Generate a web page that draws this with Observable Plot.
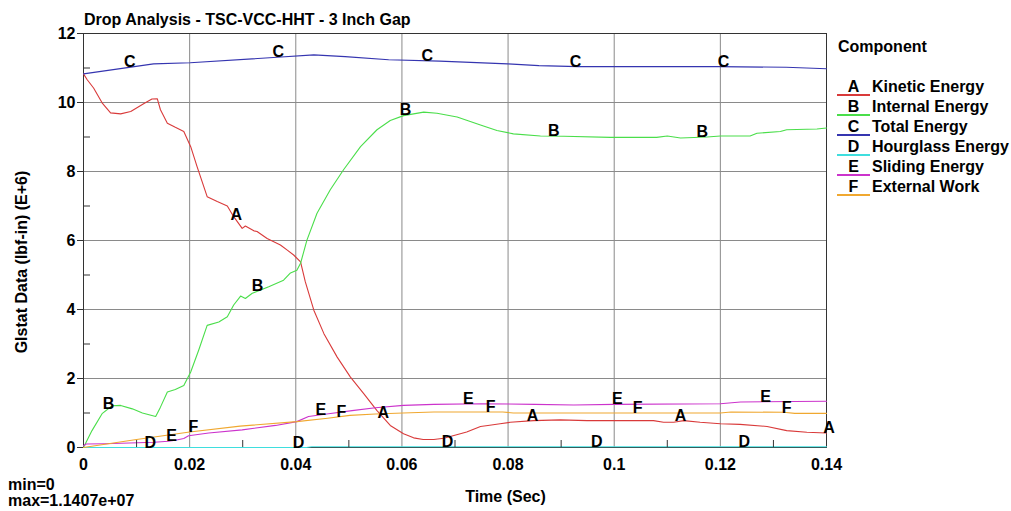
<!DOCTYPE html>
<html><head><meta charset="utf-8">
<script src="https://cdn.jsdelivr.net/npm/d3@7"></script>
<script src="https://cdn.jsdelivr.net/npm/@observablehq/plot@0.6"></script>
<style>
body{margin:0;background:#fff;}
#wrap{position:relative;width:1011px;height:511px;overflow:hidden;font-family:"Liberation Sans",Arial,sans-serif;font-weight:bold;font-size:16px;color:#000;background:#fff;}
#wrap svg{position:absolute;left:0;top:0;}
.abs{position:absolute;white-space:nowrap;line-height:18px;}
</style></head><body><div id="wrap"></div>
<script>
const titleText = "Drop Analysis - TSC-VCC-HHT - 3 Inch Gap";
const legendTitle = "Component";
const xLabel = "Time (Sec)";
const yLabel = "Glstat Data (lbf-in) (E+6)";
const minText = "min=0";
const maxText = "max=1.1407e+07";

const letters = ["A", "B", "C", "D", "E", "F"];
const names = ["Kinetic Energy", "Internal Energy", "Total Energy", "Hourglass Energy", "Sliding Energy", "External Work"];
const colors = ["#d93a3a", "#4ade4a", "#3535b0", "#3fdede", "#cc33cc", "#f0a830"];

const xMajor = [0, 0.02, 0.04, 0.06, 0.08, 0.1, 0.12, 0.14];
const xMinor = [0.01, 0.03, 0.05, 0.07, 0.09, 0.11, 0.13];
const yMajor = [0, 2, 4, 6, 8, 10, 12];
const yMinor = [1, 3, 5, 7, 9, 11];

// [time (s), value (E+6 lbf-in)]
const kinetic = [[0,10.83],[0.0007,10.66],[0.0019,10.42],[0.0035,9.99],[0.0051,9.70],[0.0070,9.67],[0.0089,9.74],[0.0114,9.97],[0.0129,10.10],[0.0139,10.11],[0.0145,9.79],[0.0158,9.40],[0.0173,9.28],[0.0189,9.16],[0.0202,8.72],[0.0214,8.14],[0.0233,7.27],[0.0252,7.13],[0.0271,7.00],[0.0283,6.69],[0.0299,6.35],[0.0305,6.42],[0.0321,6.28],[0.0327,6.26],[0.0346,6.06],[0.0371,5.87],[0.0384,5.72],[0.0396,5.58],[0.0409,5.38],[0.0418,4.80],[0.0434,3.98],[0.0453,3.30],[0.0478,2.62],[0.0503,2.04],[0.0528,1.56],[0.0553,1.07],[0.0578,0.64],[0.0603,0.40],[0.0622,0.28],[0.0640,0.23],[0.0660,0.23],[0.0679,0.27],[0.0710,0.40],[0.0722,0.45],[0.0748,0.61],[0.0762,0.64],[0.0785,0.69],[0.0804,0.73],[0.0848,0.78],[0.0898,0.80],[0.0949,0.78],[0.1074,0.78],[0.1093,0.73],[0.1112,0.73],[0.1131,0.78],[0.1162,0.73],[0.1200,0.69],[0.1237,0.67],[0.1288,0.61],[0.1325,0.49],[0.1363,0.44],[0.1400,0.42]];
const internal = [[0,0],[0.0016,0.49],[0.0035,0.98],[0.0054,1.21],[0.0070,1.22],[0.0092,1.12],[0.0111,1.00],[0.0136,0.90],[0.0145,1.17],[0.0158,1.61],[0.0173,1.68],[0.0189,1.80],[0.0202,2.19],[0.0217,2.82],[0.0233,3.54],[0.0255,3.64],[0.0271,3.79],[0.0283,4.13],[0.0296,4.39],[0.0305,4.32],[0.0318,4.47],[0.0349,4.66],[0.0377,4.85],[0.0390,5.06],[0.0402,5.14],[0.0409,5.34],[0.0421,6.01],[0.0440,6.79],[0.0465,7.47],[0.0490,8.05],[0.0522,8.72],[0.0553,9.21],[0.0578,9.48],[0.0603,9.62],[0.0641,9.72],[0.0666,9.69],[0.0704,9.58],[0.0748,9.35],[0.0779,9.19],[0.0810,9.09],[0.0861,9.03],[0.0905,9.02],[0.0993,8.99],[0.1080,8.99],[0.1100,9.03],[0.1125,8.97],[0.1175,9.00],[0.1200,9.03],[0.1256,9.03],[0.1269,9.11],[0.1313,9.16],[0.1325,9.21],[0.1382,9.23],[0.1400,9.26]];
const total = [[0,10.83],[0.0132,11.12],[0.0201,11.15],[0.0365,11.31],[0.0434,11.38],[0.0493,11.33],[0.0575,11.24],[0.0671,11.20],[0.0799,11.12],[0.0858,11.07],[0.0932,11.04],[0.1196,11.04],[0.1324,11.02],[0.1400,10.98]];
const hourglass = [[0,0],[0.0420,0],[0.0430,0.02],[0.1400,0.02]];
const sliding = [[0,0.05],[0.0005,0.10],[0.0040,0.11],[0.0133,0.15],[0.0160,0.18],[0.0173,0.21],[0.0189,0.26],[0.0198,0.34],[0.0236,0.42],[0.0299,0.51],[0.0362,0.64],[0.0402,0.75],[0.0424,0.90],[0.0462,0.98],[0.0506,1.07],[0.0550,1.15],[0.0603,1.22],[0.0660,1.25],[0.0750,1.27],[0.0850,1.25],[0.0924,1.23],[0.1000,1.25],[0.1200,1.27],[0.1238,1.32],[0.1400,1.34]];
const external = [[0,0],[0.010,0.23],[0.020,0.45],[0.0295,0.62],[0.0402,0.75],[0.0460,0.85],[0.0502,0.93],[0.0550,0.97],[0.0602,1.00],[0.0660,1.03],[0.0790,1.03],[0.0810,1.00],[0.1200,1.00],[0.1220,1.03],[0.1320,1.02],[0.1340,0.99],[0.1400,0.99]];

const labelTimes = {
  A: [0.0288, 0.0565, 0.0846, 0.1125, 0.1405],
  B: [0.0047, 0.0328, 0.0607, 0.0886, 0.1166],
  C: [0.0087, 0.0367, 0.0648, 0.0927, 0.1206],
  D: [0.0126, 0.0405, 0.0686, 0.0967, 0.1245],
  E: [0.0166, 0.0447, 0.0725, 0.1006, 0.1285],
  F: [0.0207, 0.0486, 0.0767, 0.1044, 0.1325]
};

const seriesData = [kinetic, internal, total, hourglass, sliding, external];

function interp(s, t) {
  if (t <= s[0][0]) return s[0][1];
  for (let i = 0; i < s.length - 1; i++) {
    const [t0, v0] = s[i], [t1, v1] = s[i + 1];
    if (t >= t0 && t <= t1) return v0 + (v1 - v0) * (t - t0) / (t1 - t0);
  }
  return s[s.length - 1][1];
}

const rows = [];
seriesData.forEach((s, i) => s.forEach(([t, v]) => rows.push({t, v, key: letters[i]})));
const labelRows = [];
seriesData.forEach((s, i) => labelTimes[letters[i]].forEach(t => labelRows.push({t, v: interp(s, Math.min(t, 0.14)), key: letters[i]})));

const plot = Plot.plot({
  width: 1011,
  height: 511,
  marginLeft: 83,
  marginRight: 185,
  marginTop: 33,
  marginBottom: 64,
  style: {fontFamily: '"Liberation Sans", Arial, sans-serif', fontSize: "16px", fontWeight: "bold", background: "transparent", color: "#000", overflow: "visible"},
  x: {domain: [0, 0.14], label: null},
  y: {domain: [0, 12], label: null},
  color: {domain: letters, range: colors},
  marks: [
    Plot.gridX({ticks: xMajor.slice(1, -1), stroke: "#8a8a8a", strokeOpacity: 1}),
    Plot.gridY({ticks: yMajor.slice(1, -1), stroke: "#8a8a8a", strokeOpacity: 1}),
    Plot.frame({stroke: "#333"}),
    Plot.line(rows, {x: "t", y: "v", z: "key", stroke: "key", strokeWidth: 1.1}),
    Plot.text(labelRows, {x: "t", y: "v", text: "key", fill: "#000", lineAnchor: "middle", dy: -5, fontSize: 16, fontWeight: "bold"}),
    Plot.axisY({ticks: yMajor, tickSize: 6, tickPadding: 2, tickFormat: d => String(d), stroke: "#333"}),
    Plot.axisY({ticks: yMinor, tickSize: -7, tickFormat: () => "", stroke: "#333"}),
    Plot.axisX({ticks: xMajor, tickSize: 0, tickPadding: 11, tickFormat: d => String(d)}),
    Plot.axisX({ticks: xMinor, tickSize: -7, tickFormat: () => "", stroke: "#333"})
  ]
});

const wrap = document.getElementById("wrap");
wrap.appendChild(plot);

function addText(text, css) {
  const d = document.createElement("div");
  d.className = "abs";
  d.textContent = text;
  Object.assign(d.style, css);
  wrap.appendChild(d);
  return d;
}
addText(titleText, {left: "84px", top: "11px"});
addText(legendTitle, {left: "838px", top: "38px"});
letters.forEach((L, i) => {
  const top = 78 + i * 20;
  const u = document.createElement("div");
  Object.assign(u.style, {position: "absolute", left: "837px", top: (top + 16) + "px", width: "33px", height: "1.5px", background: colors[i]});
  wrap.appendChild(u);
  addText(L, {left: "837px", top: top + "px", width: "33px", textAlign: "center"});
  addText(names[i], {left: "872px", top: top + "px"});
});
addText(minText, {left: "8px", top: "476px"});
addText(maxText, {left: "8px", top: "492px"});
addText(xLabel, {left: "0px", width: "1011px", textAlign: "center", top: "488px"});
addText(yLabel, {left: "22px", top: "262px", transform: "translate(-50%,-50%) rotate(-90deg)"});
</script></body></html>
